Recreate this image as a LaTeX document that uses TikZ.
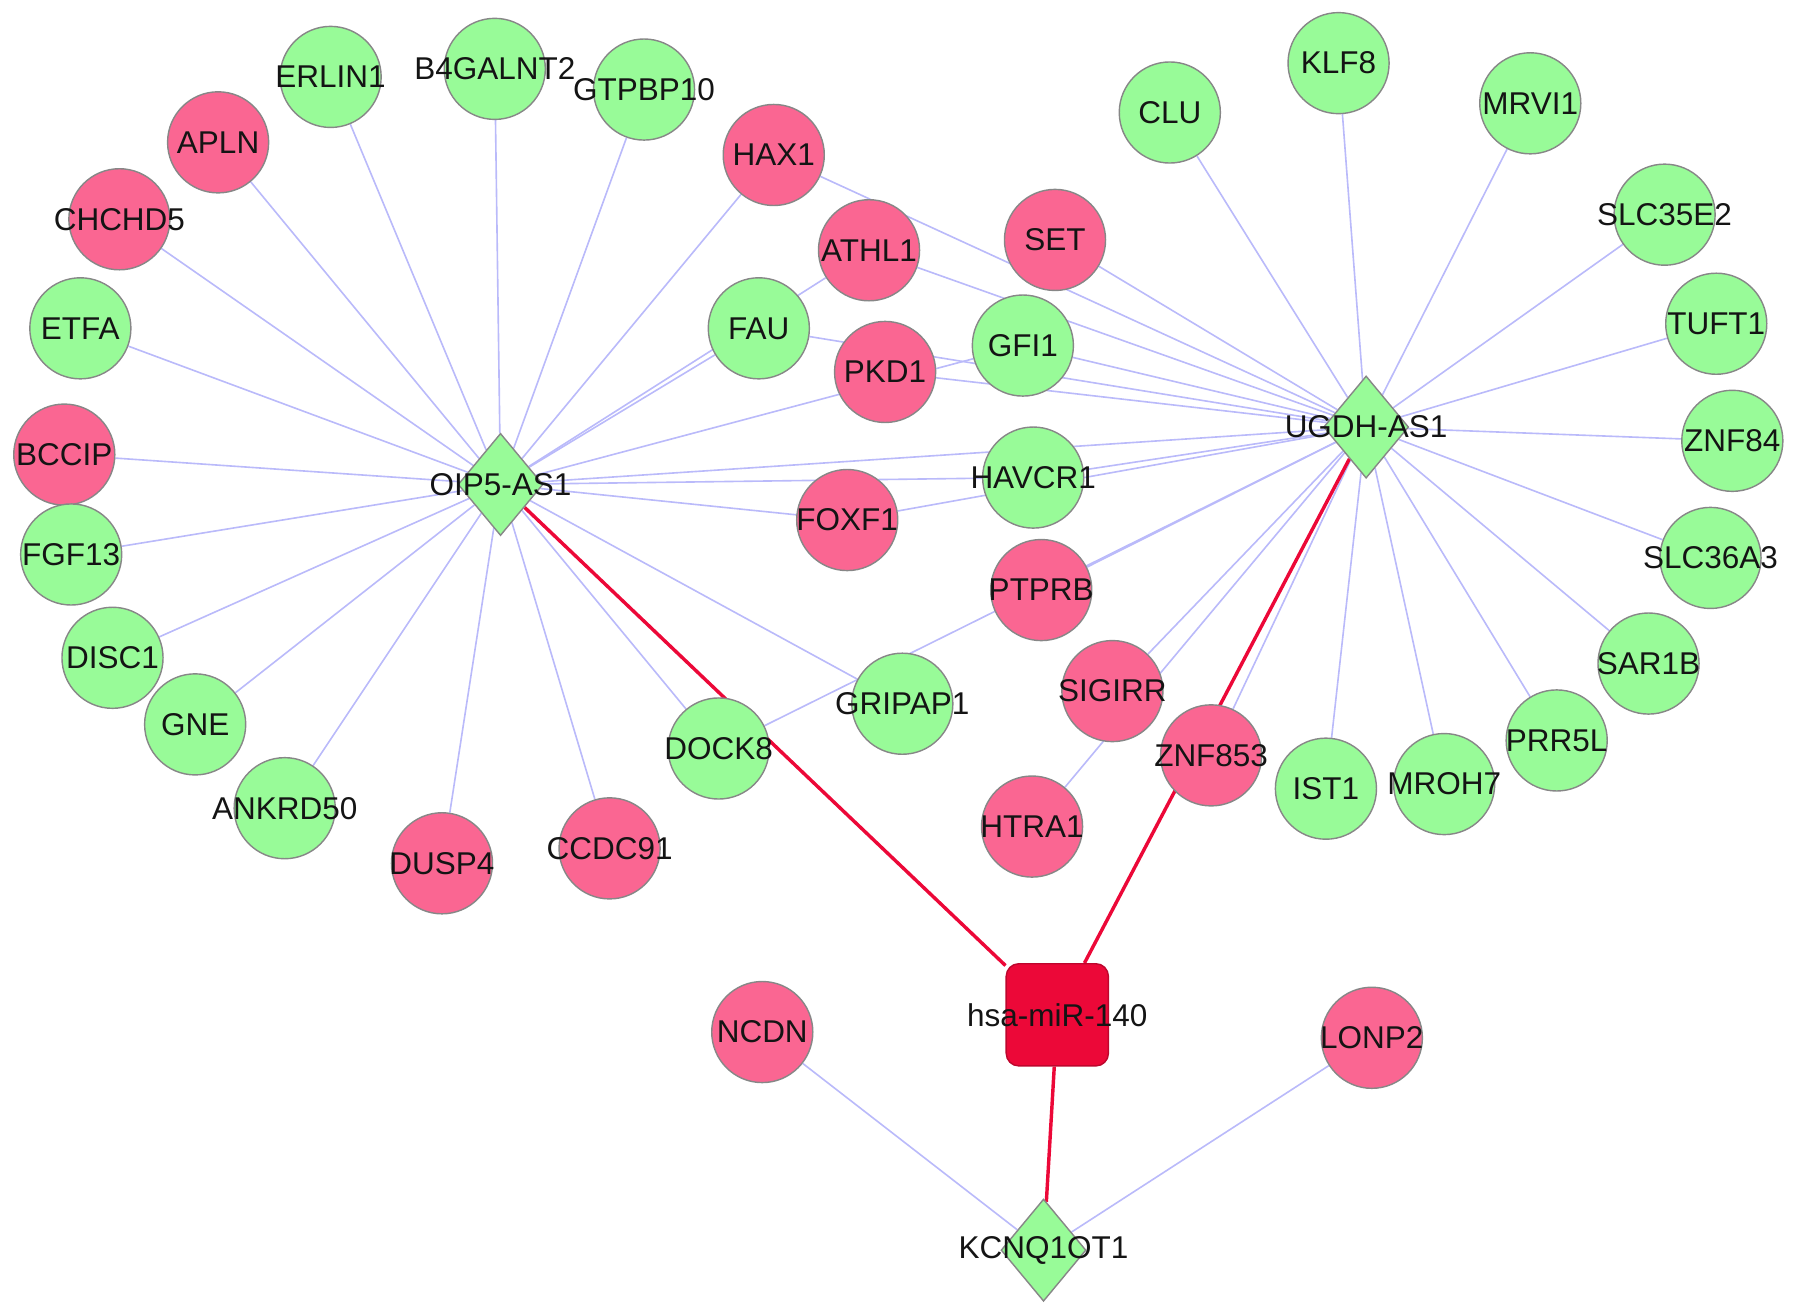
\documentclass[tikz,border=0pt]{standalone}
\usepackage{fontspec}
\setmainfont{Liberation Sans}
\usetikzlibrary{shapes.geometric,backgrounds}

\definecolor{upgreen}{RGB}{152,251,152}
\definecolor{downpink}{RGB}{250,102,146}
\definecolor{mirred}{RGB}{236,8,56}
\definecolor{lnkblue}{RGB}{186,186,250}
\definecolor{rimgray}{RGB}{135,135,135}

\begin{document}
\begin{tikzpicture}[x=0.01cm,y=-0.01cm,
    gene/.style={circle,draw=rimgray,line width=0.35pt,minimum size=8.8mm,inner sep=0pt,
                 label={[font=\fontsize{7.8}{9}\selectfont,text=black!92]center:#1}},
    green node/.style={gene=#1,fill=upgreen},
    pink node/.style={gene=#1,fill=downpink},
    lnc node/.style={diamond,draw=rimgray,line width=0.35pt,fill=upgreen,inner sep=0pt,
                 minimum width=7.4mm,minimum height=8.9mm,
                 label={[font=\fontsize{7.8}{9}\selectfont,text=black!92]center:#1}},
    mir node/.style={rectangle,rounded corners=1.1mm,draw=mirred!80!black,line width=0.35pt,
                 fill=mirred,inner sep=0pt,minimum size=8.9mm,
                 label={[font=\fontsize{7.8}{9}\selectfont,text=black!92]center:#1}}]

  \useasboundingbox (0,0) rectangle (1563.6,1143.7);

  \node[lnc node=OIP5-AS1] (oip5) at (436,422) {};
  \node[lnc node=UGDH-AS1] (ugdh) at (1190,372) {};
  \node[lnc node=KCNQ1OT1] (kcnq) at (909,1089) {};
  \node[mir node=hsa-miR-140] (mir140) at (921,884) {};

  \node[green node=ERLIN1] (erlin1) at (288,67) {};
  \node[green node=B4GALNT2] (b4galnt2) at (431,60) {};
  \node[green node=GTPBP10] (gtpbp10) at (561,78) {};
  \node[pink node=APLN] (apln) at (190,124) {};
  \node[pink node=CHCHD5] (chchd5) at (104,191) {};
  \node[green node=ETFA] (etfa) at (70,286) {};
  \node[pink node=BCCIP] (bccip) at (56,396) {};
  \node[green node=FGF13] (fgf13) at (62,483) {};
  \node[green node=DISC1] (disc1) at (98,573) {};
  \node[green node=GNE] (gne) at (170,631) {};
  \node[green node=ANKRD50] (ankrd50) at (248,704) {};
  \node[pink node=DUSP4] (dusp4) at (385,752) {};
  \node[pink node=CCDC91] (ccdc91) at (531,739) {};
  \node[green node=DOCK8] (dock8) at (626,652) {};
  \node[green node=GRIPAP1] (gripap1) at (786,613) {};

  \node[pink node=HAX1] (hax1) at (674,135) {};
  \node[pink node=ATHL1] (athl1) at (757,218) {};
  \node[green node=FAU] (fau) at (661,286) {};
  \node[pink node=PKD1] (pkd1) at (771,324) {};
  \node[pink node=SET] (set) at (919,209) {};
  \node[green node=GFI1] (gfi1) at (891,301) {};
  \node[green node=HAVCR1] (havcr1) at (900,416) {};
  \node[pink node=FOXF1] (foxf1) at (738,453) {};
  \node[pink node=PTPRB] (ptprb) at (907,514) {};
  \node[pink node=SIGIRR] (sigirr) at (969,602) {};
  \node[pink node=HTRA1] (htra1) at (899,720) {};
  \node[pink node=ZNF853] (znf853) at (1055,658) {};

  \node[green node=CLU] (clu) at (1019,98) {};
  \node[green node=KLF8] (klf8) at (1166,55) {};
  \node[green node=MRVI1] (mrvi1) at (1333,90) {};
  \node[green node=SLC35E2] (slc35e2) at (1450,187) {};
  \node[green node=TUFT1] (tuft1) at (1495,282) {};
  \node[green node=ZNF84] (znf84) at (1509,384) {};
  \node[green node=SLC36A3] (slc36a3) at (1490,486) {};
  \node[green node=SAR1B] (sar1b) at (1436,578) {};
  \node[green node=PRR5L] (prr5l) at (1356,645) {};
  \node[green node=MROH7] (mroh7) at (1258,683) {};
  \node[green node=IST1] (ist1) at (1155,687) {};

  \node[pink node=NCDN] (ncdn) at (664,899) {};
  \node[pink node=LONP2] (lonp2) at (1195,904) {};

\begin{scope}[on background layer]
\path[every edge/.style={draw=lnkblue,line width=0.4pt}]
    (oip5) edge (erlin1)
           edge (b4galnt2)
           edge (gtpbp10)
           edge (apln)
           edge (chchd5)
           edge (etfa)
           edge (bccip)
           edge (fgf13)
           edge (disc1)
           edge (gne)
           edge (ankrd50)
           edge (dusp4)
           edge (ccdc91)
           edge (dock8)
           edge (gripap1)
           edge (hax1)
           edge (athl1)
           edge (fau)
           edge (gfi1)
           edge (foxf1)
           edge (havcr1)
           edge (ugdh)
    (ugdh) edge (clu)
           edge (klf8)
           edge (mrvi1)
           edge (slc35e2)
           edge (tuft1)
           edge (znf84)
           edge (slc36a3)
           edge (sar1b)
           edge (prr5l)
           edge (mroh7)
           edge (ist1)
           edge (znf853)
           edge (sigirr)
           edge (htra1)
           edge (ptprb)
           edge (dock8)
           edge (havcr1)
           edge (foxf1)
           edge (pkd1)
           edge (fau)
           edge (gfi1)
           edge (athl1)
           edge (set)
           edge (hax1)
    (kcnq) edge (ncdn)
           edge (lonp2)
;
\path[every edge/.style={draw=mirred,line width=0.85pt}]
    (mir140) edge (oip5)
             edge (ugdh)
             edge (kcnq)
;
\end{scope}
\end{tikzpicture}
\end{document}
